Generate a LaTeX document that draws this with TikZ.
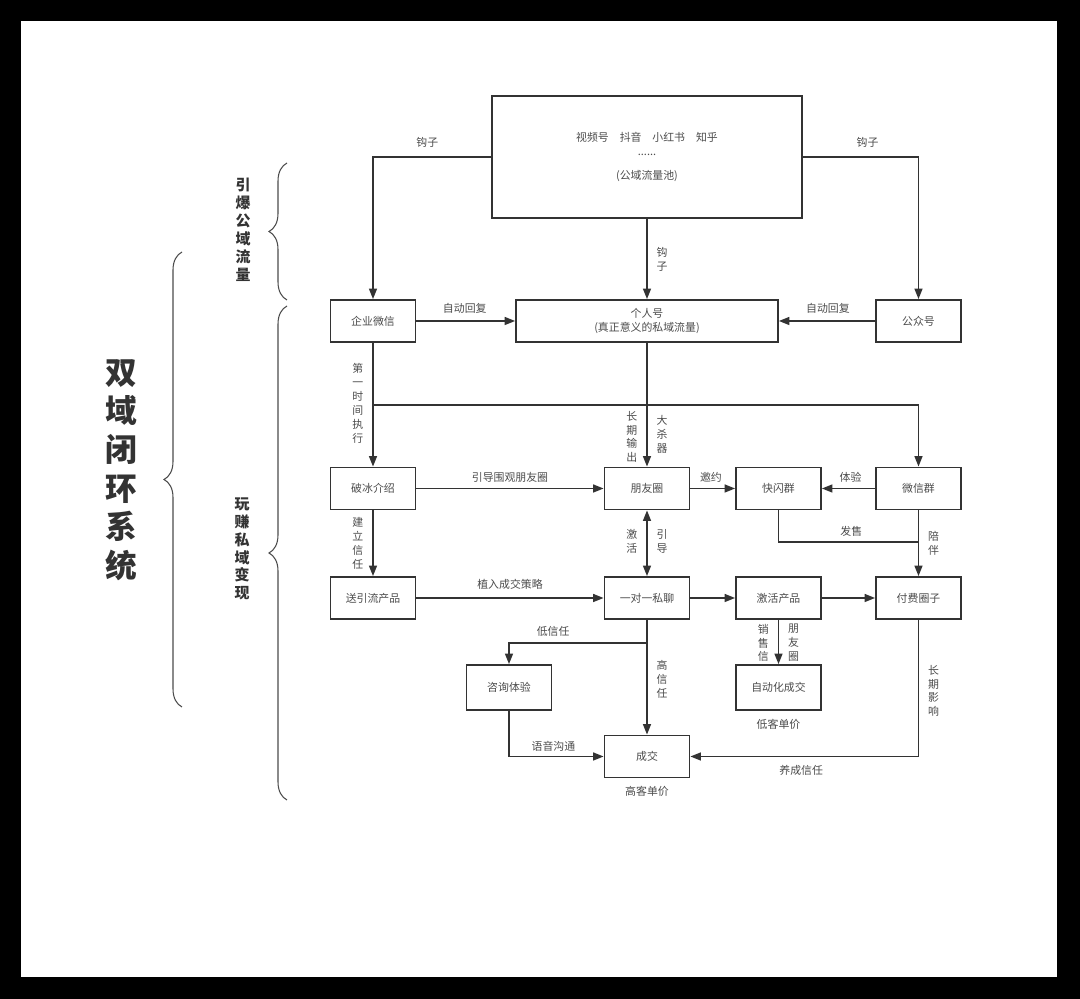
\documentclass[tikz,border=0pt]{standalone}
\usepackage{fontspec}
\setmainfont{Noto Sans CJK SC}
\usepackage{tikz}
\usetikzlibrary{arrows.meta, decorations.pathreplacing}
\tikzstyle{block} = [rectangle, draw=black!80, line width=1pt, text=black!70,
minimum width=1.7cm, minimum height=0.84cm, inner sep=1pt, align=center]
\tikzstyle{line} = [draw=black!80, line width=1pt, -{Triangle[length=6pt, width=4.5pt]}]
\tikzstyle{tag} = [text=black!70, inner sep=0pt, align=center]
\tikzstyle{bracket} = [draw=black!70, line width=0.6pt, decorate,
decoration={brace, amplitude=0.36cm}]
\tikzstyle{phase} = [text=black!80, align=center, font=\bfseries\fontsize{8.5}{10.2}\selectfont]

\begin{document}
\begin{tikzpicture}[x=0.02cm, y=-0.02cm, font=\fontsize{6.2}{7.9}\selectfont]
	% Frame
	\useasboundingbox (0,0) rectangle (1080,999);
	\fill [black] (0,0) rectangle (1080,999);
	\fill [white] (21,21) rectangle (1057,977);
	
	% Place nodes
	\node [block, minimum width=6.2cm, minimum height=2.44cm] (pool) at (647,157) {视频号\quad 抖音\quad 小红书\quad 知乎\\......\\[6pt](公域流量池)};
	\node [block] (qiye) at (373,321) {企业微信};
	\node [block, minimum width=5.24cm] (geren) at (647,321) {个人号\\(真正意义的私域流量)};
	\node [block] (gzh) at (918.5,321) {公众号};
	\node [block] (pobing) at (373,488.5) {破冰介绍};
	\node [block] (pyq) at (647,488.5) {朋友圈};
	\node [block] (kuaishan) at (778.5,488.5) {快闪群};
	\node [block] (wxq) at (918.5,488.5) {微信群};
	\node [block] (songyin) at (373,598) {送引流产品};
	\node [block] (siliao) at (647,598) {一对一私聊};
	\node [block] (jihuo) at (778.5,598) {激活产品};
	\node [block] (fufei) at (918.5,598) {付费圈子};
	\node [block, minimum height=0.9cm] (zixun) at (509,687.5) {咨询体验};
	\node [block, minimum height=0.9cm] (zidong) at (778.5,687.5) {自动化成交};
	\node [block] (chengjiao) at (647,756.5) {成交};
	\node [tag, below=4.5pt] (dikedan) at (zidong.south) {低客单价};
	\node [tag, below=4.5pt] (gaokedan) at (chengjiao.south) {高客单价};
	\coordinate (fork) at (373,405);
	\coordinate (fajoin) at (918.5,542);
	\coordinate (lowfork) at (647,643);
	
	% Public domain
	\path [line] (pool.west) -| node [tag, pos=0.27, above=5pt] {钩子} (qiye.north);
	\path [line] (pool.east) -| node [tag, pos=0.28, above=5pt] {钩子} (gzh.north);
	\path [line] (pool.south) -- node [tag, pos=0.5, right=5pt] {钩\\子} (geren.north);
	\path [line] (qiye.east) -- node [tag, pos=0.49, above=4pt] {自动回复} (geren.west);
	\path [line] (gzh.west) -- node [tag, pos=0.49, above=4pt] {自动回复} (geren.east);
	
	% Private domain
	\path [line] (qiye.south) -- node [tag, pos=0.49, left=5pt] {第\\一\\时\\间\\执\\行} (pobing.north);
	\path [line] (geren.south) -- node [tag, pos=0.76, left=5pt] {长\\期\\输\\出}
		node [tag, pos=0.74, right=5pt] {大\\杀\\器} (pyq.north);
	\path [line] (fork) -| (wxq.north);
	\path [line] (pobing.east) -- node [tag, pos=0.5, above=3pt] {引导围观朋友圈} (pyq.west);
	\path [line] (pyq.east) -- node [tag, pos=0.46, above=3pt] {邀约} (kuaishan.west);
	\path [line] (wxq.west) -- node [tag, pos=0.46, above=3pt] {体验} (kuaishan.east);
	\draw [draw=black!80, line width=1pt] (kuaishan.south) |- node [tag, pos=0.76, above=2.5pt] {发售} (fajoin);
	\path [line] (wxq.south) -- node [tag, pos=0.5, right=5pt] {陪\\伴} (fufei.north);
	\path [line] (pobing.south) -- node [tag, pos=0.5, left=5pt] {建\\立\\信\\任} (songyin.north);
	\path [line, {Triangle[length=6pt, width=4.5pt]}-{Triangle[length=6pt, width=4.5pt]}] (pyq.south) -- node [tag, pos=0.47, left=5pt] {激\\活}
		node [tag, pos=0.47, right=5pt] {引\\导} (siliao.north);
	\path [line] (songyin.east) -- node [tag, pos=0.5, above=4.5pt] {植入成交策略} (siliao.west);
	\path [line] (siliao.east) -- (jihuo.west);
	\path [line] (jihuo.east) -- (fufei.west);
	
	% Deals
	\path [line] (siliao.south) -- node [tag, pos=0.52, right=5pt] {高\\信\\任} (chengjiao.north);
	\path [line] (lowfork) -| node [tag, pos=0.34, above=3.5pt] {低信任} (zixun.north);
	\path [line] (zixun.south) |- node [tag, pos=0.735, above=2.5pt] {语音沟通} (chengjiao.west);
	\path [line] (jihuo.south) -- node [tag, pos=0.52, left=5pt] {销\\售\\信}
		node [tag, pos=0.52, right=5pt] {朋\\友\\圈} (zidong.north);
	\path [line] (fufei.south) |- node [tag, pos=0.26, right=5pt] {长\\期\\影\\响}
		node [tag, pos=0.757, below=4.5pt] {养成信任} (chengjiao.east);
	
	% Phases
	\draw [bracket] (287,300) -- (287,163);
	\draw [bracket] (287,800) -- (287,306);
	\draw [bracket] (182,707) -- (182,252);
	\node [phase] (yinbao) at (243,229.5) {引\\爆\\公\\域\\流\\量};
	\node [phase] (wanzhuan) at (242,549) {玩\\赚\\私\\域\\变\\现};
	\node [text=black!80, align=center, font=\bfseries\fontsize{18}{22}\selectfont] (shuangyu) at (121,470) {双\\域\\闭\\环\\系\\统};
\end{tikzpicture}
\end{document}
